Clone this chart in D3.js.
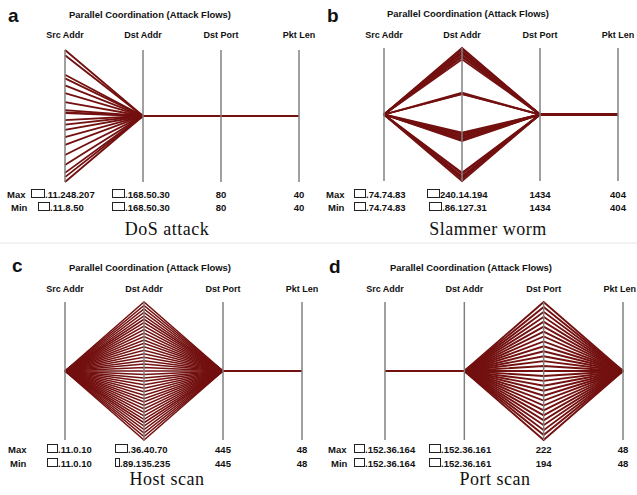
<!DOCTYPE html>
<html>
<head>
<meta charset="utf-8">
<script src="https://cdn.jsdelivr.net/npm/d3@7"></script>
<style>
  body { margin: 0; background: #fff; }
  .sans { font-family: "Liberation Sans", Arial, sans-serif; font-weight: bold; fill: #111; }
  .serif { font-family: "Liberation Serif", "Times New Roman", serif; fill: #111; }
</style>
</head>
<body>
<div id="chart"></div>
<script>
const axisNames = ['Src Addr', 'Dst Addr', 'Dst Port', 'Pkt Len'];

// a: DoS attack (many sources -> one host)
const dosSrc = ['.11.248.207', '.11.239.61', '.11.203.144', '.11.197.12', '.11.184.90', '.11.170.33',
  '.11.153.201', '.11.139.77', '.11.135.18', '.11.133.240', '.11.121.5', '.11.112.166', '.11.103.94',
  '.11.90.29', '.11.75.180', '.11.57.112', '.11.39.47', '.11.24.219', '.11.17.3', '.11.8.50'];
const dosDst = ['.168.50.30'];
const dosPort = [80];
const dosLen = [40];
const dosMax = ['.11.248.207', '.168.50.30', '80', '40'];
const dosMin = ['.11.8.50', '.168.50.30', '80', '40'];

// b: Slammer worm (one source -> many hosts)
const slamSrc = ['.74.74.83'];
const slamDst = ['.240.14.194', '.238.201.7', '.236.90.142', '.235.3.66', '.233.177.210', '.231.62.19',
  '.229.140.88', '.227.18.233', '.188.95.41', '.187.12.160', '.186.220.9', '.142.61.200', '.141.7.35',
  '.139.188.120', '.138.40.77', '.137.129.251', '.136.2.14', '.134.97.180', '.133.215.63', '.132.150.92',
  '.96.33.17', '.94.170.205', '.92.8.99', '.90.121.48', '.88.240.150', '.86.127.31'];
const slamPort = [1434];
const slamLen = [404];
const slamMax = ['.74.74.83', '240.14.194', '1434', '404'];
const slamMin = ['.74.74.83', '.86.127.31', '1434', '404'];

// c: Host scan (scanned host order on Dst Addr)
const hostSrc = ['.11.0.10'];
const hostDst = [0, 1, 2, 3, 4, 5, 6, 7, 8, 9, 10, 11, 12, 13, 14, 15, 16, 17, 18, 19, 20,
  21, 22, 23, 24, 25, 26, 27, 28, 29, 30, 31, 32, 33, 34, 35, 36, 37, 38, 39, 40];
const hostPort = [445];
const hostLen = [48];
const hostMax = ['.11.0.10', '.36.40.70', '445', '48'];
const hostMin = ['.11.0.10', '.89.135.235', '445', '48'];

// d: Port scan
const portSrc = ['.152.36.164'];
const portDst = ['.152.36.161'];
const portPorts = [194, 195, 196, 197, 198, 199, 200, 201, 202, 203, 204, 205, 206, 207, 208,
  209, 210, 211, 212, 213, 214, 215, 216, 217, 218, 219, 220, 221, 222];
const portLen = [48];
const portMax = ['.152.36.164', '.152.36.161', '222', '48'];
const portMin = ['.152.36.164', '.152.36.161', '194', '48'];

const ipNum = s => (typeof s === 'number') ? s
  : s.split('.').filter(d => d !== '').reduce((v, o) => v * 256 + (+o), 0);

// every flow takes one value per axis; a single value is repeated
function buildFlows(src, dst, port, len) {
  const n = Math.max(src.length, dst.length, port.length, len.length);
  const pick = (arr, i) => arr.length === 1 ? arr[0] : arr[i];
  return d3.range(n).map(i => [ipNum(pick(src, i)), ipNum(pick(dst, i)), pick(port, i), pick(len, i)]);
}

const panels = [
  { letter: 'a', caption: 'DoS attack', flows: buildFlows(dosSrc, dosDst, dosPort, dosLen),
    max: dosMax, min: dosMin,
    tx: 0, letterXY: [8, 22], titleX: 150, titleY: 18, labelY: 38, top: 50, bot: 182, xs: [65, 299],
    rows: [{ y: 198, lx: 7, b1: [31, 13], b2: [112, 12] }, { y: 211, lx: 11, b1: [38, 11], b2: [112, 12] }],
    capX: 167, capY: 235, width: 1.8 },
  { letter: 'b', caption: 'Slammer worm', flows: buildFlows(slamSrc, slamDst, slamPort, slamLen),
    max: slamMax, min: slamMin,
    tx: 317, letterXY: [10, 22], titleX: 151, titleY: 17, labelY: 38, top: 48, bot: 181, xs: [67, 301],
    rows: [{ y: 198, lx: 9, b1: [37, 11], b2: [110, 12] }, { y: 211, lx: 11, b1: [37, 11], b2: [112, 12] }],
    capX: 171, capY: 235, width: 1.8 },
  { letter: 'c', caption: 'Host scan', flows: buildFlows(hostSrc, hostDst, hostPort, hostLen),
    max: hostMax, min: hostMin,
    tx: 0, letterXY: [12, 272], titleX: 150, titleY: 271, labelY: 292, top: 302, bot: 440, xs: [65, 302],
    rows: [{ y: 453, lx: 8, b1: [47, 10], b2: [115, 12] }, { y: 467, lx: 10, b1: [47, 10], b2: [115, 4] }],
    capX: 167, capY: 485, width: 1.5 },
  { letter: 'd', caption: 'Port scan', flows: buildFlows(portSrc, portDst, portPorts, portLen),
    max: portMax, min: portMin,
    tx: 317, letterXY: [12, 273], titleX: 154, titleY: 271, labelY: 292, top: 302, bot: 440, xs: [68, 306],
    rows: [{ y: 453, lx: 11, b1: [37, 10], b2: [112, 11] }, { y: 467, lx: 14, b1: [37, 10], b2: [112, 11] }],
    capX: 178, capY: 485, width: 1.9 }
];

const svg = d3.select('#chart').append('svg')
  .attr('width', 637)
  .attr('height', 495);

svg.append('line')
  .attr('x1', 0).attr('x2', 637).attr('y1', 243).attr('y2', 243)
  .attr('stroke', '#e6e6e6');

panels.forEach(p => {
  const g = svg.append('g').attr('transform', `translate(${p.tx},0)`);

  const x = d3.scalePoint().domain(axisNames).range(p.xs);
  const y = axisNames.map((name, k) => d3.scaleLinear()
    .domain(d3.extent(p.flows, f => f[k]))
    .range([p.bot, p.top]));

  const line = d3.line()
    .x(d => x(d.name))
    .y(d => y[d.k](d.v));

  g.append('text')
    .attr('class', 'sans')
    .attr('x', p.letterXY[0]).attr('y', p.letterXY[1])
    .style('font-size', '19px')
    .text(p.letter);

  g.append('text')
    .attr('class', 'sans')
    .attr('x', p.titleX).attr('y', p.titleY)
    .attr('text-anchor', 'middle')
    .attr('textLength', 162)
    .attr('lengthAdjust', 'spacingAndGlyphs')
    .style('font-size', '9.5px')
    .text('Parallel Coordination (Attack Flows)');

  g.selectAll('.axis-label')
    .data(axisNames)
    .enter().append('text')
    .attr('class', 'sans axis-label')
    .attr('x', d => x(d))
    .attr('y', p.labelY)
    .attr('text-anchor', 'middle')
    .style('font-size', '9px')
    .text(d => d);

  g.append('g').selectAll('path')
    .data(p.flows)
    .enter().append('path')
    .attr('d', f => line(axisNames.map((name, k) => ({ name, k, v: f[k] }))))
    .attr('fill', 'none')
    .attr('stroke', '#731010')
    .attr('stroke-width', p.width)
    .attr('stroke-linejoin', 'miter');

  g.selectAll('.axis')
    .data(axisNames)
    .enter().append('line')
    .attr('class', 'axis')
    .attr('x1', d => x(d)).attr('x2', d => x(d))
    .attr('y1', p.top).attr('y2', p.bot)
    .attr('stroke', '#808080')
    .attr('stroke-width', 1.5);

  [p.max, p.min].forEach((vals, r) => {
    const row = p.rows[r];
    const rg = g.append('g');
    rg.append('text')
      .attr('class', 'sans')
      .attr('x', row.lx).attr('y', row.y)
      .style('font-size', '9.5px')
      .text(r === 0 ? 'Max' : 'Min');
    [row.b1, row.b2].forEach((b, k) => {
      rg.append('rect')
        .attr('x', b[0] + 0.5).attr('y', row.y - 8.5)
        .attr('width', b[1]).attr('height', 8)
        .attr('fill', '#fff')
        .attr('stroke', '#222');
      rg.append('text')
        .attr('class', 'sans')
        .attr('x', b[0] + b[1] + 1).attr('y', row.y)
        .style('font-size', '9.5px')
        .text(vals[k]);
    });
    [2, 3].forEach(k => {
      rg.append('text')
        .attr('class', 'sans')
        .attr('x', x(axisNames[k])).attr('y', row.y)
        .attr('text-anchor', 'middle')
        .style('font-size', '9.5px')
        .text(vals[k]);
    });
  });

  g.append('text')
    .attr('class', 'serif')
    .attr('x', p.capX).attr('y', p.capY)
    .attr('text-anchor', 'middle')
    .style('font-size', '18px')
    .style('letter-spacing', '0.5px')
    .text(p.caption);
});

// the right-most axis title of panel d sits at the page edge: keep it inside
svg.selectAll('.axis-label')
  .filter(function () { return this.getCTM().e + this.getBBox().x + this.getBBox().width > 636; })
  .attr('text-anchor', 'end')
  .attr('x', 636 - 317);
</script>
</body>
</html>
